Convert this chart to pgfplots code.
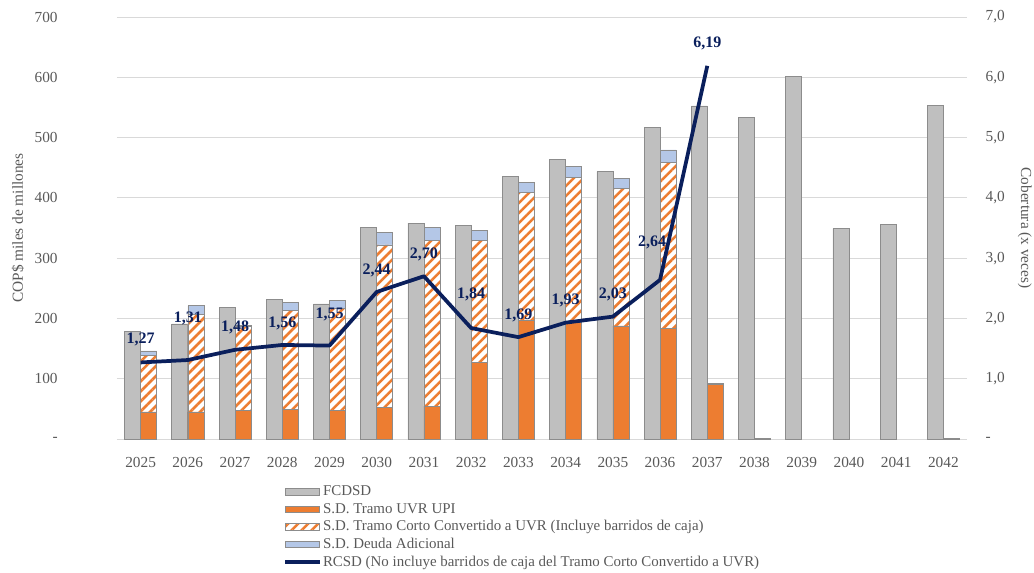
\documentclass[border=0pt]{standalone}
\usepackage{pgfplots}
\pgfplotsset{compat=1.18}
\usepackage{pgfplotstable}
\usepackage{fontspec}
\setmainfont{Liberation Serif}
\usetikzlibrary{patterns.meta}
\definecolor{cgray}{HTML}{BFBFBF}
\definecolor{cedge}{HTML}{8C8C8C}
\definecolor{corange}{HTML}{ED7D31}
\definecolor{cblue}{HTML}{B4C7E7}
\definecolor{cnavy}{HTML}{0A1F5C}
\definecolor{ctick}{HTML}{595959}
\definecolor{cgrid}{HTML}{D9D9D9}

\pgfplotstableread{
x v
0 179
1 191
2 218.5
3 231
4 224
5 351
6 358
7 354
8 435
9 463.5
10 443.6
11 517
12 552.6
13 533
14 601
15 349
16 356
17 553
}\fcd

\pgfplotstableread{
x upi corto adic
0 45 93 8
1 45 161 15
2 48 139 2
3 49 164 13
4 47 170 12.5
5 52.6 269.4 20
6 54 275 22
7 127 202 17
8 197.5 211.5 17
9 193 241 18.5
10 187.5 227.5 17.6
11 183 275.5 21
12 90 2.5 0
13 0 1.5 0
17 0 1.5 0
}\stk

\pgfplotstableread{
x r lbl dx dy
0 1.27 {1,27} 0 17
1 1.31 {1,31} 0 31.5
2 1.48 {1,48} 0 16.5
3 1.56 {1,56} 0 16.5
4 1.55 {1,55} 0 23
5 2.44 {2,44} 0 16
6 2.70 {2,70} 0 16.5
7 1.84 {1,84} 0 25
8 1.69 {1,69} 0 16.5
9 1.93 {1,93} 0 17
10 2.03 {2,03} 0 16.5
11 2.64 {2,64} -6 28
12 6.19 {6,19} 0 16.5
}\rcsd

\pgfplotsset{
  base/.style={
    scale only axis, width=637.5pt, height=316.5pt,
    at={(0pt,0pt)}, anchor=south west,
    xmin=-0.5, xmax=17.5,
    axis line style={draw=none},
    major tick length=0pt,
    tick label style={font=\fontsize{11.5}{13}\selectfont, text=ctick},
    label style={font=\fontsize{11.5}{13}\selectfont, text=ctick},
  },
  barsty/.style={draw=cedge, line width=0.5pt},
  barleg/.style={legend image code/.code={\draw[##1] (0pt,-2.4pt) rectangle (26pt,2.4pt);}},
  lineleg/.style={legend image code/.code={\draw[##1] (0pt,0pt) -- (26pt,0pt);}},
  hatch/.style={fill=white, postaction={pattern={Lines[angle=45, distance=5.3pt, line width=1.9pt]}, pattern color=corange}},
}

\begin{document}
\begin{tikzpicture}
\useasboundingbox (-87.75pt,-99.75pt) rectangle (687.75pt,329.25pt);

% gray FCDSD bars, left axis, grid, x labels
\begin{axis}[base,
  ymin=0, ymax=700,
  ytick={0,100,...,700},
  yticklabels={{-},100,200,300,400,500,600,700},
  yticklabel style={xshift=-41pt},
  ymajorgrids, grid style={cgrid, line width=0.75pt},
  xtick={0,...,17},
  xticklabels={2025,2026,2027,2028,2029,2030,2031,2032,2033,2034,2035,2036,2037,2038,2039,2040,2041,2042},
  xticklabel style={yshift=-10pt},
  ylabel={COP\$ miles de millones},
  ylabel style={at={(axis description cs:-0.1165,0.5)}, anchor=center, rotate=0},
  ybar, bar width=12pt,
]
\addplot[barsty, fill=cgray, bar shift=-6pt] table[x=x, y=v]{\fcd};
\end{axis}

% stacked bars
\begin{axis}[base,
  ymin=0, ymax=700,
  xtick=\empty, ytick=\empty,
  ybar stacked, bar width=12pt,
]
\addplot[barsty, fill=corange, bar shift=6pt] table[x=x, y=upi]{\stk};
\addplot[barsty, hatch, bar shift=6pt] table[x=x, y=corto]{\stk};
\addplot[barsty, fill=cblue, bar shift=6pt] table[x=x, y=adic]{\stk};
\end{axis}

% line, right axis, legend
\begin{axis}[base,
  ymin=0, ymax=7,
  axis x line=none,
  axis y line*=right,
  ytick={0,1,...,7},
  yticklabels={{-},{1,0},{2,0},{3,0},{4,0},{5,0},{6,0},{7,0}},
  yticklabel style={xshift=10.5pt},
  ylabel={Cobertura (x veces)},
  ylabel style={at={(axis description cs:1.068,0.5)}, anchor=center, rotate=180},
  legend style={at={(0.1953,-0.107)}, anchor=north west, draw=none, fill=none,
    inner sep=0pt, row sep=2.2pt,
    font=\fontsize{11.2}{13}\selectfont, text=ctick,
    nodes={inner xsep=1pt, inner ysep=0pt, text height=8.5pt, text depth=2.5pt}},
  legend cell align=left,
]
\addlegendimage{barsty, fill=cgray, barleg}
\addlegendentry{FCDSD}
\addlegendimage{barsty, fill=corange, barleg}
\addlegendentry{S.D. Tramo UVR UPI}
\addlegendimage{barsty, hatch, barleg}
\addlegendentry{S.D. Tramo Corto Convertido a UVR (Incluye barridos de caja)}
\addlegendimage{barsty, fill=cblue, barleg}
\addlegendentry{S.D. Deuda Adicional}
\addplot[cnavy, line width=2.8pt, line join=round, no markers, lineleg] table[x=x, y=r]{\rcsd};
\addlegendentry{RCSD (No incluye barridos de caja del Tramo Corto Convertido a UVR)}
\addplot[draw=none, no markers, forget plot,
  point meta=explicit symbolic,
  nodes near coords,
  visualization depends on={\thisrow{dy} \as \dy},
  visualization depends on={\thisrow{dx} \as \dx},
  every node near coord/.append style={font=\bfseries\fontsize{12}{14}\selectfont,
    text=cnavy, anchor=center, yshift=\dy pt, xshift=\dx pt},
] table[x=x, y=r, meta=lbl]{\rcsd};
\end{axis}
\end{tikzpicture}
\end{document}
